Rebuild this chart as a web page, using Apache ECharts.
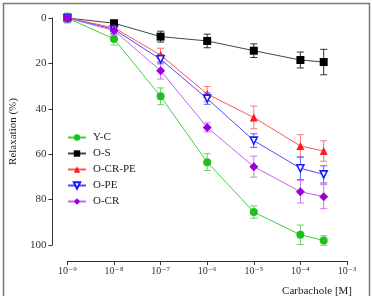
<!DOCTYPE html>
<html>
<head>
<meta charset="utf-8">
<script src="https://cdn.jsdelivr.net/npm/echarts@6/dist/echarts.min.js"></script>
<style>html,body{margin:0;padding:0;background:#fff;}#c{width:372px;height:299px;}</style>
</head>
<body>
<div id="c"></div>
<script>
// log10 of carbachole concentration [M]
const logConc = [-9, -8, -7, -6, -5, -4, -3.5];
const xTicks = [-9, -8, -7, -6, -5, -4, -3];
const yTicks = [0, 20, 40, 60, 80, 100];

const seriesNames = ['Y-C', 'O-S', 'O-CR-PE', 'O-PE', 'O-CR'];
const ycMean  = [0, 9.2, 34.5, 63.5, 85.5, 95.5, 98];
const ycErr   = [2.2, 2.7, 3.7, 3.7, 2.7, 4.3, 2.1];
const osMean  = [0, 2.3, 8.2, 10.1, 14.4, 18.5, 19.4];
const osErr   = [1.5, 1.2, 2.4, 3.0, 3.0, 3.5, 5.6];
const crpeMean = [0, 4.3, 16.3, 33.5, 43.8, 56.4, 58.6];
const crpeErr  = [1.5, 2.5, 3.0, 3.3, 5.0, 5.0, 4.5];
const peMean  = [0, 5, 18.2, 35.5, 54, 66.2, 68.9];
const peErr   = [1.8, 2.0, 2.0, 2.5, 3.0, 5.0, 3.8];
const crMean  = [0, 5.5, 23.2, 48.2, 65.5, 76.5, 78.7];
const crErr   = [1.5, 2.0, 3.7, 2.0, 4.6, 5.0, 5.3];

const means = [ycMean, osMean, crpeMean, peMean, crMean];
const errs = [ycErr, osErr, crpeErr, peErr, crErr];
const markerColors = ['#1fbf1f', '#000000', '#ff1a1a', '#1a1aff', '#9900dd'];
const lineColors = ['#44cc44', '#444444', '#ff5555', '#4d4dff', '#c266f0'];
const errColors = ['#66d466', '#333333', '#ff7777', '#5a5aff', '#cc77f2'];
const symbols = ['circle', 'rect', 'triangle', 'path://M0,0 L10,0 L5,9 Z', 'diamond'];
const symbolSizes = [8, 8, 8, 7, 9];

const serif = 'Liberation Serif, DejaVu Serif, serif';
const chart = echarts.init(document.getElementById('c'));

const series = [];
seriesNames.forEach((name, i) => {
  const errData = logConc.map((x, j) => [x, means[i][j] - errs[i][j], means[i][j] + errs[i][j]]);
  series.push({
    type: 'custom',
    name: name + ' err',
    data: errData,
    z: 2,
    silent: true,
    renderItem: function (params, api) {
      const x = api.value(0);
      const lo = api.coord([x, api.value(1)]);
      const hi = api.coord([x, api.value(2)]);
      const w = 3.5;
      const st = { stroke: errColors[i], lineWidth: 1 };
      return {
        type: 'group',
        children: [
          { type: 'line', shape: { x1: lo[0], y1: lo[1], x2: hi[0], y2: hi[1] }, style: st },
          { type: 'line', shape: { x1: lo[0] - w, y1: lo[1], x2: lo[0] + w, y2: lo[1] }, style: st },
          { type: 'line', shape: { x1: hi[0] - w, y1: hi[1], x2: hi[0] + w, y2: hi[1] }, style: st }
        ]
      };
    }
  });
  const isOpen = i === 3;
  series.push({
    type: 'line',
    name: name,
    data: logConc.map((x, j) => [x, means[i][j]]),
    z: 3,
    symbol: symbols[i],
    symbolSize: symbolSizes[i],
    showAllSymbol: true,
    lineStyle: { color: lineColors[i], width: 1 },
    itemStyle: isOpen
      ? { color: '#ffffff', borderColor: markerColors[i], borderWidth: 1.6 }
      : { color: markerColors[i], borderWidth: 0 },
    color: markerColors[i],
    animation: false
  });
});

const supMap = {'-':'⁻','0':'⁰','1':'¹','2':'²','3':'³','4':'⁴','5':'⁵','6':'⁶','7':'⁷','8':'⁸','9':'⁹'};

chart.setOption({
  animation: false,
  grid: { left: 67, right: 25, top: 18, bottom: 54, containLabel: false },
  legend: {
    data: seriesNames,
    orient: 'vertical',
    left: 67,
    top: 131,
    itemWidth: 18,
    itemHeight: 8,
    itemGap: 3,
    textStyle: { fontFamily: serif, fontSize: 11, color: '#222', lineHeight: 13, padding: [0, 0, 0, 2] },
    padding: 0
  },
  xAxis: {
    type: 'value',
    min: -9, max: -3, interval: 1,
    offset: 16,
    axisLine: { show: true, onZero: false, lineStyle: { color: '#333', width: 1 } },
    axisTick: { show: true, length: 4, lineStyle: { color: '#333' } },
    splitLine: { show: false },
    axisLabel: {
      margin: 5,
      formatter: function (v) {
        const s = String(v).split('').map(c => supMap[c] || c).join('');
        return '10' + s;
      },
      fontFamily: serif, fontSize: 10, color: '#333'
    }
  },
  yAxis: {
    type: 'value',
    min: 0, max: 100, interval: 20,
    inverse: true,
    offset: 15,
    name: 'Relaxation (%)',
    nameLocation: 'middle',
    nameGap: 31,
    nameTextStyle: { fontFamily: serif, fontSize: 11, color: '#222' },
    axisLine: { show: true, onZero: false, lineStyle: { color: '#333', width: 1 } },
    axisTick: { show: true, length: 4, lineStyle: { color: '#333' } },
    splitLine: { show: false },
    axisLabel: { margin: 6, fontFamily: serif, fontSize: 11, color: '#333' }
  },
  graphic: [
    { type: 'polyline', shape: { points: [[3.5, 296], [3.5, 3.5], [369.5, 3.5], [369.5, 296]] }, style: { stroke: '#777', lineWidth: 1.5, fill: null }, silent: true },
    { type: 'text', right: 20, top: 286, style: { text: 'Carbachole [M]', font: '11px ' + serif, fill: '#222' }, silent: true }
  ],
  series: series
});
</script>
</body>
</html>
